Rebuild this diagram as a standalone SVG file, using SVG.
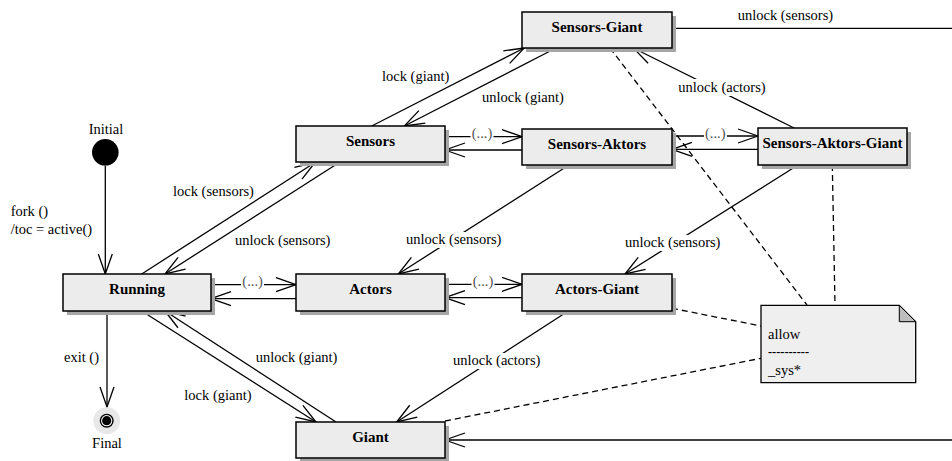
<svg xmlns="http://www.w3.org/2000/svg" width="952" height="461" viewBox="0 0 952 461">
<style>
text{font-family:"Liberation Serif","Times New Roman",serif;font-size:14.5px;fill:#000}
.n{font-weight:bold;font-size:15px;text-anchor:middle}
.sh{fill:#a6a6a6}
.bx{fill:#ececec;stroke:#000;stroke-width:1.5}
.e{fill:none;stroke:#000;stroke-width:1.3;marker-end:url(#ah)}
.p{fill:none;stroke:#000;stroke-width:1.3}
.d{fill:none;stroke:#000;stroke-width:1.3;stroke-dasharray:6,4}
.bg{fill:#fff}
.g{fill:#555}
</style>
<defs>
<marker id="ah" viewBox="-21 -8 22 16" refX="0" refY="0" markerWidth="22" markerHeight="16" markerUnits="userSpaceOnUse" orient="auto">
<path d="M-20,-7 L0,0 L-20,7" fill="none" stroke="#000" stroke-width="1.3"/>
</marker>
</defs>
<rect width="952" height="461" fill="#fff"/>

<g id="connectors">
<path class="e" d="M105.3,165.5 L105.3,274"/>
<path class="e" d="M107,311 L107,407"/>
<path class="e" d="M141.7,274 L315,162.5"/>
<path class="e" d="M340,162 L165,274"/>
<path class="e" d="M141.7,311 L316,422"/>
<path class="e" d="M336,422 L165,311"/>
<path class="e" d="M371.7,126 L524.3,48"/>
<path class="e" d="M556,48 L404.3,126"/>
<path class="e" d="M211,284.7 L296,284.7"/>
<path class="e" d="M296,298.7 L211,298.7"/>
<path class="e" d="M445,136.7 L522,136.7"/>
<path class="e" d="M522,150 L445,150"/>
<path class="e" d="M445,284.3 L522,284.3"/>
<path class="e" d="M522,297.7 L445,297.7"/>
<path class="e" d="M672,136 L758,136"/>
<path class="e" d="M758,149.3 L672,149.3"/>
<path class="e" d="M794,128 L633.3,48"/>
<path class="e" d="M569,165 L398.3,274"/>
<path class="e" d="M798,165 L625,274"/>
<path class="e" d="M568.3,311 L396.7,422"/>
<path class="p" d="M672,28.3 L952,28.3"/>
<path class="e" d="M952,440 L445,440"/>
<path class="d" d="M610,48 L807,305"/>
<path class="d" d="M832.3,165 L835,305"/>
<path class="d" d="M672,308.3 L761,326"/>
<path class="d" d="M445,421 L761,358.3"/>

<rect class="bg" x="241" y="276" width="23" height="13"/>
<rect class="bg" x="470.5" y="128" width="23" height="13"/>
<rect class="bg" x="471.5" y="276" width="23" height="13"/>
<rect class="bg" x="704" y="127.5" width="23" height="13"/>
<rect class="bg" x="676" y="79" width="92" height="17"/>
<rect class="bg" x="404" y="232" width="99" height="16"/>
<rect class="bg" x="623" y="235" width="99" height="16"/>
<rect class="bg" x="451" y="353" width="91" height="16"/>

<text x="10.7" y="216">fork ()</text>
<text x="10.7" y="234">/toc = active()</text>
<text x="64" y="362">exit ()</text>
<text x="173" y="196">lock (sensors)</text>
<text x="235" y="245">unlock (sensors)</text>
<text x="255.7" y="362">unlock (giant)</text>
<text x="184.3" y="399.5">lock (giant)</text>
<text x="382" y="80.5">lock (giant)</text>
<text x="482" y="101.5">unlock (giant)</text>
<text x="678.3" y="91.7">unlock (actors)</text>
<text x="737.7" y="20">unlock (sensors)</text>
<text x="406" y="244">unlock (sensors)</text>
<text x="625" y="247.3">unlock (sensors)</text>
<text x="453" y="365">unlock (actors)</text>
<text class="g" x="242.3" y="286">(...)</text>
<text class="g" x="471.7" y="138">(...)</text>
<text class="g" x="472.7" y="285.5">(...)</text>
<text class="g" x="705" y="137.5">(...)</text>
</g>

<g id="initial">
<circle cx="105.3" cy="152.3" r="13.3" fill="#000"/>
<text x="106" y="134" text-anchor="middle">Initial</text>
</g>

<g id="final">
<circle cx="106.7" cy="420.7" r="13.5" fill="#e8e8e8"/>
<circle cx="106.7" cy="420.7" r="7" fill="#000"/>
<circle cx="106.7" cy="420.7" r="5.6" fill="#fff"/>
<circle cx="106.7" cy="420.7" r="4.6" fill="#000"/>
<text x="107" y="448" text-anchor="middle">Final</text>
</g>

<g id="sensors-giant">
<rect class="sh" x="526" y="16" width="150" height="36"/>
<rect class="bx" x="522" y="12" width="150" height="36"/>
<text class="n" x="597" y="31.5">Sensors-Giant</text>
</g>

<g id="sensors">
<rect class="sh" x="300" y="130" width="149" height="36"/>
<rect class="bx" x="296" y="126" width="149" height="36"/>
<text class="n" x="370.5" y="145.5">Sensors</text>
</g>

<g id="sensors-aktors">
<rect class="sh" x="526" y="133" width="150" height="36"/>
<rect class="bx" x="522" y="129" width="150" height="36"/>
<text class="n" x="597" y="148.5">Sensors-Aktors</text>
</g>

<g id="sensors-aktors-giant">
<rect class="sh" x="762" y="132" width="149" height="37"/>
<rect class="bx" x="758" y="128" width="149" height="37"/>
<text class="n" x="832.5" y="148">Sensors-Aktors-Giant</text>
</g>

<g id="running">
<rect class="sh" x="67" y="278" width="148" height="37"/>
<rect class="bx" x="63" y="274" width="148" height="37"/>
<text class="n" x="137" y="293.5">Running</text>
</g>

<g id="actors">
<rect class="sh" x="300" y="278" width="149" height="37"/>
<rect class="bx" x="296" y="274" width="149" height="37"/>
<text class="n" x="370.5" y="293.5">Actors</text>
</g>

<g id="actors-giant">
<rect class="sh" x="526" y="278" width="150" height="37"/>
<rect class="bx" x="522" y="274" width="150" height="37"/>
<text class="n" x="597" y="293.5">Actors-Giant</text>
</g>

<g id="giant">
<rect class="sh" x="300" y="426" width="149" height="36"/>
<rect class="bx" x="296" y="422" width="149" height="36"/>
<text class="n" x="370.5" y="441.5">Giant</text>
</g>

<g id="note">
<path d="M761,305.3 L899.3,305.3 L915.7,321.7 L915.7,382.7 L761,382.7 Z" fill="#efefef" stroke="#000" stroke-width="1.3"/>
<path d="M899.3,305.3 L899.3,321.7 L915.7,321.7 Z" fill="#bdbdbd" stroke="#000" stroke-width="1"/>
<text x="768" y="338.5">allow</text>
<text x="768" y="356" textLength="41" lengthAdjust="spacingAndGlyphs">----------</text>
<text x="768" y="374.5">_sys*</text>
</g>
</svg>
